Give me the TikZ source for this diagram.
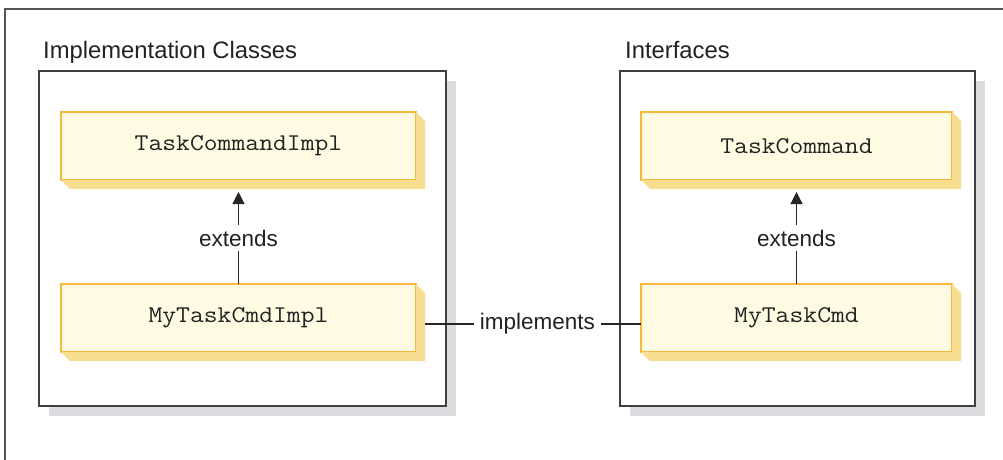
\documentclass[tikz,border=0pt]{standalone}
\usepackage{fontspec}
\setmainfont{Liberation Sans}
\newfontfamily\codefont[FakeStretch=1.12]{Latin Modern Mono}
\usetikzlibrary{arrows.meta,calc}
\definecolor{boxfill}{HTML}{FFFBE3}
\definecolor{boxedge}{HTML}{F5B83A}
\definecolor{extr}{HTML}{F7DD8F}
\definecolor{shade}{HTML}{DCDDE0}
\definecolor{frameline}{HTML}{555555}
\definecolor{txt}{HTML}{222222}
\tikzset{
  cls/.style={draw=boxedge, fill=boxfill, line width=1.5pt, minimum width=355pt, minimum height=68pt,
     inner sep=0pt, outer sep=0pt, text=txt, font=\codefont\fontsize{24}{26}\selectfont},
  ext/.style={fill=extr},
  container/.style={draw=black!75, fill=white, line width=1.2pt},
  cshadow/.style={fill=shade},
  title/.style={anchor=base west, inner sep=0pt, text=txt, font=\fontsize{23.8}{26}\selectfont},
  lbl/.style={fill=white, inner sep=0pt, text=txt, font=\fontsize{22.5}{26}\selectfont},
  conn/.style={draw=black!85, line width=1.2pt},
  arr/.style={conn, -{Triangle[width=12pt,length=12pt]}},
}
\newcommand\extrude[1]{%
  \fill[ext] (#1.north east) -- ++(9,9) -- ([shift={(9,9)}]#1.south east)
     -- ([shift={(9,9)}]#1.south west) -- (#1.south west) -- (#1.south east) -- cycle;}
\begin{document}
\begin{tikzpicture}[x=1pt,y=-1pt]
\useasboundingbox (0,0) rectangle (1003,459);
% outer frame
\draw[frameline, line width=1.3pt] (5,470) -- (5,9) -- (1015,9);
% containers
\fill[cshadow] (49,81) rectangle (456,416);
\draw[container] (39,71) rectangle (446,406);
\fill[cshadow] (630,81) rectangle (985,416);
\draw[container] (620,71) rectangle (975,406);
\node[title] (t1) at (43,58) {Implementation Classes};
\node[title] (t2) at (625,58) {Interfaces};
% class boxes
\node[cls] (tci) at (238.5,146) {TaskCommandImpl};
\extrude{tci}
\node[cls] (mci) at (238.5,318) {MyTaskCmdImpl};
\extrude{mci}
\node[cls, minimum width=311pt] (tc) at (796.5,146) {TaskCommand};
\extrude{tc}
\node[cls, minimum width=311pt] (mc) at (796.5,318) {MyTaskCmd};
\extrude{mc}
% connectors
\coordinate (a1) at ($(tci.south)+(0,12)$);
\draw[arr] (mci.north) -- node[lbl, inner xsep=2pt, inner ysep=5pt] (e1) {extends} (a1);
\coordinate (a2) at ($(tc.south)+(0,12)$);
\draw[arr] (mc.north) -- node[lbl, inner xsep=2pt, inner ysep=5pt] (e2) {extends} (a2);
\coordinate (m1) at ($(mci.east)+(9,6)$);
\coordinate (m2) at (mc.west |- m1);
\draw[conn] (m1) -- node[lbl, inner xsep=6pt, inner ysep=3pt, pos=0.52] (impl) {implements} (m2);
\end{tikzpicture}
\end{document}
